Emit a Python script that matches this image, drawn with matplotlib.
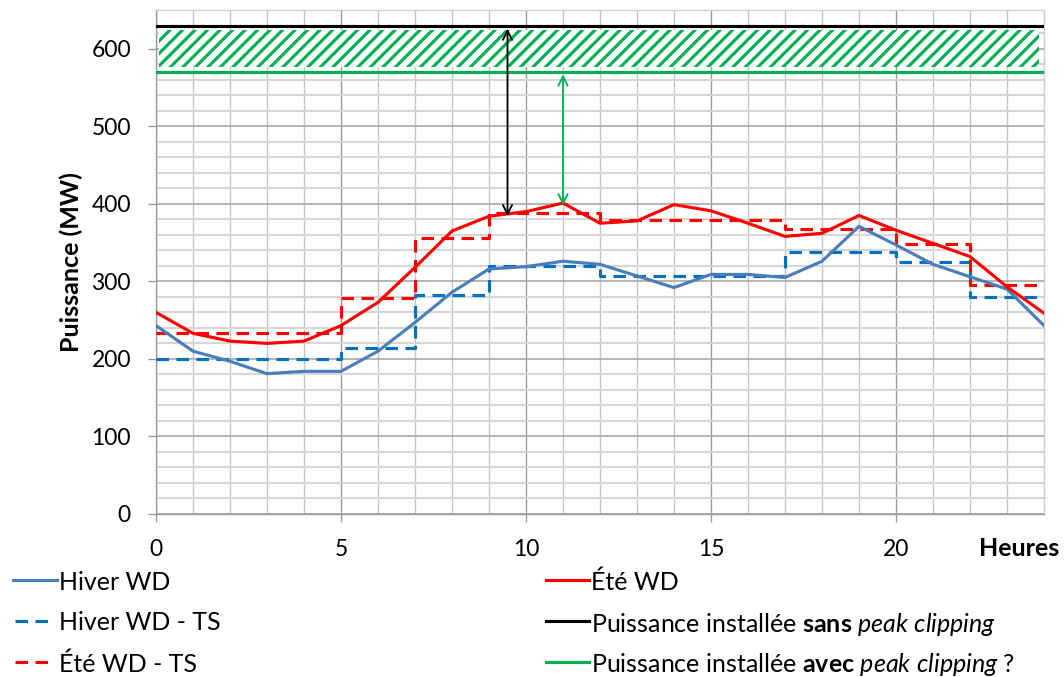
import numpy as np
import matplotlib
matplotlib.use("Agg")
import matplotlib.pyplot as plt
from matplotlib.lines import Line2D
from matplotlib.ticker import MultipleLocator, FixedLocator

# ---- data -------------------------------------------------------------
hours = list(range(25))
hiver_wd = [243, 210, 197, 181, 184, 184, 210, 247, 286, 316, 319, 326, 322,
            307, 292, 309, 309, 305, 326, 371, 347, 322, 306, 290, 243]
ete_wd = [260, 233, 223, 220, 223, 243, 273, 318, 365, 384, 390, 401, 375,
          378, 399, 391, 375, 358, 362, 385, 366, 349, 332, 293, 259]

# time-slot (TS) tariff profiles: value held from each break to the next
ts_breaks = [0, 5, 7, 9, 12, 17, 20, 22, 24]
hiver_ts = [200, 214, 283, 320, 307, 338, 325, 280, 280]
ete_ts = [233, 278, 356, 388, 379, 367, 348, 295, 295]

p_sans = 630   # installed power without peak clipping
p_avec = 570   # installed power with peak clipping

labels = ["Hiver WD", "Été WD", "Hiver WD - TS", "Été WD - TS",
          r"Puissance installée $\mathbf{sans}$ $\mathit{peak\ clipping}$",
          r"Puissance installée $\mathbf{avec}$ $\mathit{peak\ clipping}$ ?"]

# ---- style ------------------------------------------------------------
DPI = 75
W, H = 1064, 677
plt.rcParams["font.family"] = ["Lato", "DejaVu Sans"]
plt.rcParams["mathtext.fontset"] = "custom"
plt.rcParams["mathtext.rm"] = "Lato"
plt.rcParams["mathtext.it"] = "Lato:italic"
plt.rcParams["mathtext.bf"] = "Lato:bold"
plt.rcParams["hatch.linewidth"] = 3.0
plt.rcParams["hatch.color"] = "#00B050"

C_HIVER = "#4A7EBB"
C_HIVER_TS = "#0070C0"
C_ETE = "#FF0000"
C_SANS = "#000000"
C_AVEC = "#00B050"
LW = 3.0
DASH = (0, (4.0, 2.4))
FS = 22
FS_LEG = 24
FS_B = 24

styles = {
    "hiver": dict(color=C_HIVER, lw=LW, ls="-"),
    "ete": dict(color=C_ETE, lw=LW, ls="-"),
    "hiver_ts": dict(color=C_HIVER_TS, lw=LW, ls=DASH),
    "ete_ts": dict(color=C_ETE, lw=LW, ls=DASH),
    "sans": dict(color=C_SANS, lw=LW, ls="-"),
    "avec": dict(color=C_AVEC, lw=LW, ls="-"),
}

fig = plt.figure(figsize=(W / DPI, H / DPI), dpi=DPI)
ax = fig.add_axes([156 / W, 1 - 514 / H, 888 / W, 504 / H])

# ---- grid -------------------------------------------------------------
ax.set_xlim(0, 24)
ax.set_ylim(0, 650)
ax.xaxis.set_major_locator(MultipleLocator(5))
ax.xaxis.set_minor_locator(MultipleLocator(1))
ax.yaxis.set_major_locator(FixedLocator(list(range(0, 700, 100))))
ax.yaxis.set_minor_locator(FixedLocator(list(range(0, 640, 20))))
ax.set_axisbelow(True)
ax.grid(which="minor", axis="x", color="#c4c4c4", lw=1.3)
ax.grid(which="minor", axis="y", color="#d6d6d6", lw=2.0)
ax.grid(which="major", axis="x", color="#9a9a9a", lw=1.3)
ax.grid(which="major", axis="y", color="#a8a8a8", lw=1.6)

for side in ("left", "bottom"):
    ax.spines[side].set_color("#9a9a9a")
    ax.spines[side].set_linewidth(1.3)
for side in ("top", "right"):
    ax.spines[side].set_color("#d0d0d0")
    ax.spines[side].set_linewidth(1.3)

ax.tick_params(which="major", length=8, width=1.3, color="#9a9a9a",
               labelsize=FS, pad=16)
ax.tick_params(which="minor", length=0)
ax.set_yticks(range(0, 700, 100))
ax.set_yticklabels([str(v) if v <= 600 else "" for v in range(0, 700, 100)])

# ---- hatched band between the two installed-power levels ---------------
ax.fill_between([0.09, 23.86], p_avec + 6, p_sans - 6, facecolor="white",
                edgecolor=C_AVEC, hatch="//", linewidth=0, zorder=2)

# ---- series -----------------------------------------------------------
ax.plot(hours, hiver_wd, solid_joinstyle="round", zorder=4, **styles["hiver"])
ax.plot(hours, ete_wd, solid_joinstyle="round", zorder=4, **styles["ete"])
ax.plot(ts_breaks, hiver_ts, drawstyle="steps-post", zorder=3,
        **styles["hiver_ts"])
ax.plot(ts_breaks, ete_ts, drawstyle="steps-post", zorder=3,
        **styles["ete_ts"])
ax.axhline(p_sans, zorder=5, **styles["sans"])
ax.axhline(p_avec, zorder=5, **styles["avec"])

# ---- margin arrows ------------------------------------------------------
x_black = 9.5
ax.annotate("", xy=(x_black, np.interp(x_black, hours, ete_wd) - 3),
            xytext=(x_black, p_sans - 4),
            arrowprops=dict(arrowstyle="<->", color="black", lw=1.8,
                            mutation_scale=22, shrinkA=0, shrinkB=0),
            zorder=6)
x_green = 11
ax.annotate("", xy=(x_green, ete_wd[x_green] - 3), xytext=(x_green, p_avec - 3),
            arrowprops=dict(arrowstyle="<->", color=C_AVEC, lw=1.8,
                            mutation_scale=22, shrinkA=0, shrinkB=0),
            zorder=6)

# ---- axis titles --------------------------------------------------------
ax.set_ylabel("Puissance (MW)", fontsize=FS_B, fontweight="bold")
ax.yaxis.set_label_coords((83 - 156) / 888, 0.5)
fig.text(1059 / W, 1 - 548 / H, "Heures", fontsize=FS_B, fontweight="bold",
         ha="right", va="center")

# ---- legend (two columns, Excel-like layout) ----------------------------
entries = [
    (labels[0], styles["hiver"], 0, 0),
    (labels[1], styles["ete"], 1, 0),
    (labels[2], styles["hiver_ts"], 0, 1),
    (labels[4], styles["sans"], 1, 1),
    (labels[3], styles["ete_ts"], 0, 2),
    (labels[5], styles["avec"], 1, 2),
]
col_x = [(13, 57, 59), (546, 589, 591)]
row_y = [580, 621, 662]
for text, st, c, r in entries:
    x0, x1, xt = col_x[c]
    if st["ls"] != "-":
        x0, x1 = x0 + 2, x1 - 4
    yy = 1 - row_y[r] / H
    fig.add_artist(Line2D([x0 / W, x1 / W], [yy, yy], transform=fig.transFigure,
                          color=st["color"], lw=st["lw"], ls=st["ls"]))
    fig.text(xt / W, yy, text, fontsize=FS_LEG, ha="left", va="center_baseline")

fig.savefig("out.png", dpi=DPI)
